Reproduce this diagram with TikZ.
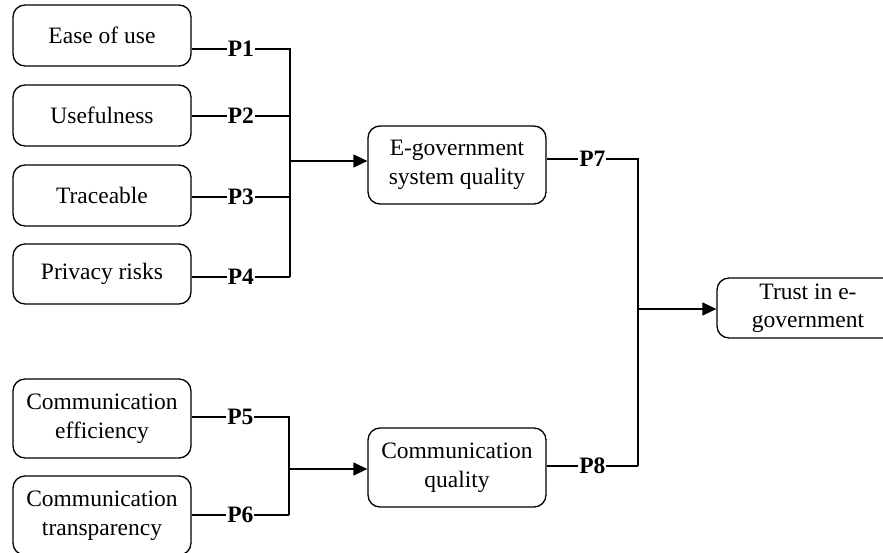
\documentclass[tikz,border=0pt]{standalone}
\usepackage{fontspec}
\setmainfont{Liberation Serif}
\usetikzlibrary{arrows.meta}
\tikzset{
  box/.style={draw, line width=1.3pt, rounded corners=12pt, align=center,
    font=\fontsize{23.5}{28.5}\selectfont, inner sep=0pt},
  conn/.style={line width=1.3pt},
  arr/.style={line width=1.3pt, -{Triangle[length=14pt,width=13pt]}},
  plbl/.style={fill=white, inner sep=1pt, font=\fontsize{23.5}{28}\selectfont\bfseries}
}
\begin{document}
\begin{tikzpicture}[x=1pt,y=-1pt]
\useasboundingbox (0,0) rectangle (883,552);
\clip (0,0) rectangle (883,552);
% left column
\node[box, minimum width=178pt, minimum height=61pt] (ease) at (102,35.5) {Ease of use};
\node[box, minimum width=178pt, minimum height=61pt] (use) at (102,115.5) {Usefulness};
\node[box, minimum width=178pt, minimum height=61pt] (trace) at (102,195.5) {Traceable};
\node[box, minimum width=178pt, minimum height=60pt] (priv) at (102,274) {Privacy risks};
\node[box, minimum width=178pt, minimum height=79pt] (ceff) at (102,418.5) {Communication\\efficiency};
\node[box, minimum width=178pt, minimum height=79pt] (ctra) at (102,515.5) {Communication\\transparency};
% middle
\node[box, minimum width=178pt, minimum height=78pt] (egov) at (457,165) {E-government\\system quality};
\node[box, minimum width=178pt, minimum height=79pt] (cq) at (457,467.5) {Communication\\quality};
% right
\node[box, minimum width=182pt, minimum height=60pt] (trust) at (808,308) {Trust in e-\\government};
% junctions
\coordinate (j1) at (290,161);
\coordinate (j2) at (289,469);
\coordinate (j3) at (638,309);
% top group
\draw[conn] (ease.east |- 0,49) -- node[plbl]{P1} (j1 |- 0,49) -- (j1 |- 0,277);
\draw[conn] (use.east |- 0,116) -- node[plbl]{P2} (j1 |- 0,116);
\draw[conn] (trace.east |- 0,197) -- node[plbl]{P3} (j1 |- 0,197);
\draw[conn] (priv.east |- 0,277) -- node[plbl]{P4} (j1 |- 0,277);
\draw[arr] (j1) -- (egov.west |- j1);
% bottom group
\draw[conn] (ceff.east |- 0,417) -- node[plbl]{P5} (j2 |- 0,417) -- (j2 |- 0,515);
\draw[conn] (ctra.east |- 0,515) -- node[plbl]{P6} (j2 |- 0,515);
\draw[arr] (j2) -- (cq.west |- j2);
% right group
\draw[conn] (egov.east |- 0,159) -- node[plbl]{P7} (j3 |- 0,159) -- (j3 |- 0,466);
\draw[conn] (cq.east |- 0,466) -- node[plbl]{P8} (j3 |- 0,466);
\draw[arr] (j3) -- (trust.west |- j3);
\end{tikzpicture}
\end{document}
